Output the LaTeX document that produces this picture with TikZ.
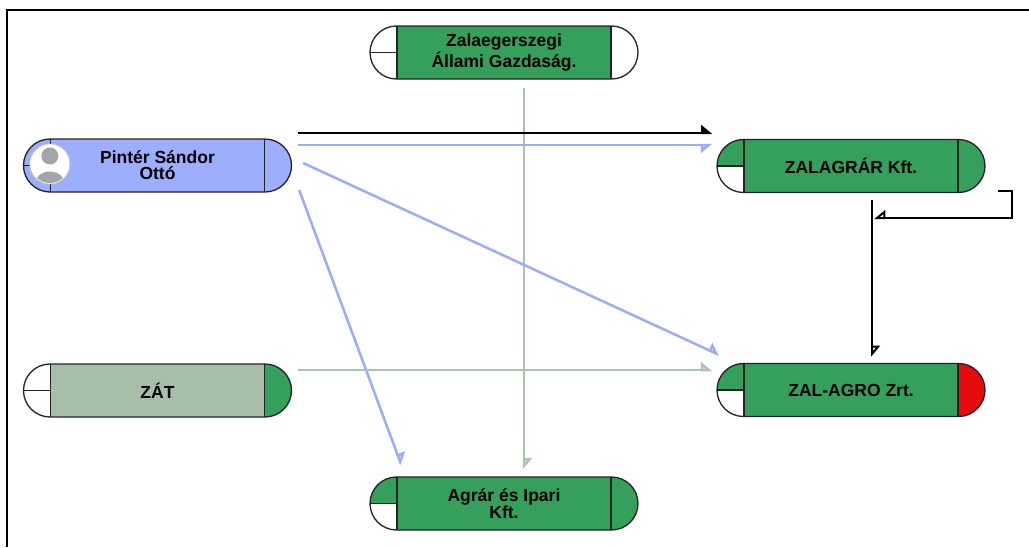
\documentclass[tikz,border=0pt]{standalone}
\usepackage{fontspec}
\setmainfont{Liberation Sans}
\usetikzlibrary{shapes.misc,calc,arrows.meta}
\definecolor{entgreen}{RGB}{52,160,92}
\definecolor{entblue}{RGB}{158,174,255}
\definecolor{entgray}{RGB}{167,190,170}
\definecolor{entred}{RGB}{228,12,12}
\definecolor{edge}{RGB}{35,35,35}
\definecolor{lineblue}{RGB}{155,172,252}
\definecolor{linegreen}{RGB}{170,196,172}
\definecolor{avgray}{RGB}{165,165,165}
\newcommand{\entfont}{\fontsize{17.5}{16}\selectfont\bfseries}
\tikzset{
  ent/.style args={#1/#2/#3/#4}{rounded rectangle, minimum width=268pt, minimum height=53pt,
    inner sep=0pt, draw=edge, line width=1.3pt, fill=#3, align=center, font=\entfont,
    path picture={
      \fill[#1] (path picture bounding box.north west) rectangle ([xshift=27pt]path picture bounding box.west);
      \fill[#2] (path picture bounding box.west) rectangle ([xshift=27pt]path picture bounding box.south west);
      \fill[#4] ([xshift=-27pt]path picture bounding box.north east) rectangle (path picture bounding box.south east);
      \draw[edge, line width=1.3pt] ([xshift=27pt]path picture bounding box.north west) -- ([xshift=27pt]path picture bounding box.south west);
      \draw[edge, line width=1.3pt] ([xshift=-27pt]path picture bounding box.north east) -- ([xshift=-27pt]path picture bounding box.south east);
      \draw[edge, line width=1.3pt] (path picture bounding box.west) -- ([xshift=27pt]path picture bounding box.west);
    }},
  blk/.style={draw=black, line width=2pt},
  blu/.style={draw=lineblue, line width=2.5pt},
  grn/.style={draw=linegreen, line width=2.5pt},
  tipL/.style={-{Triangle[harpoon,length=10pt,width=16pt]}},
  tipLo/.style={-{Triangle[harpoon,open,length=10pt,width=16pt]}},
  tipRo/.style={-{Triangle[harpoon,swap,open,length=10pt,width=16pt]}},
}
\begin{document}
\begin{tikzpicture}[x=1pt,y=-1pt]
\useasboundingbox (0,0) rectangle (1029,547);
\fill[white] (0,0) rectangle (1029,547);
\draw[line width=2pt] (7,547) -- (7,10) -- (1029,10);

\node[ent=white/white/entgreen/white] (zal) at (504,52.5) {Zalaegerszegi\\Állami Gazdaság.};
\node[ent=entblue/entblue/entblue/entblue] (pinter) at (157.5,165.5) {Pintér Sándor\\Ottó};
\node[ent=entgreen/white/entgreen/entgreen] (zalagrar) at (851,166) {ZALAGRÁR Kft.};
\node[ent=entgreen/white/entgreen/entred] (zalagro) at (851,390) {ZAL-AGRO Zrt.};
\node[ent=white/white/entgray/entgreen] (zat) at (157.5,390.5) {ZÁT};
\node[ent=entgreen/white/entgreen/entgreen] (agrar) at (504,503.5) {Agrár és Ipari\\Kft.};

% avatar
\coordinate (av) at ($(pinter.west)+(27,-1.5)$);
\fill[white, draw=avgray!60, line width=0.6pt] (av) circle[radius=20];
\begin{scope}
  \clip (av) circle[radius=19];
  \fill[avgray] ($(av)+(0,-8)$) circle[radius=8.5];
  \fill[avgray] ($(av)+(0,20)$) ellipse[x radius=15, y radius=12.5];
\end{scope}

% connectors
\draw[grn, tipLo] ($(zal.south)+(20,8)$) -- ($(agrar.north)+(20,-7)$);
\draw[blu, tipLo] ($(pinter.east)+(11,-2.5)$) -- ($(zalagro.west)+(3,-35)$);
\draw[blu, tipLo] ($(pinter.east)+(7,24.5)$) -- ($(agrar.west)+(32,-38.5)$);
\draw[grn, tipLo] ($(zat.east)+(6,-20.5)$) -- ($(zalagro.west)+(-4,-20)$);
\draw[blu, tipRo] ($(pinter.east)+(6,-20.5)$) -- ($(zalagrar.west)+(-4,-21)$);
\draw[blk, tipL] ($(pinter.east)+(6,-32.5)$) -- ($(zalagrar.west)+(-4,-33)$);
\draw[blk, tipLo] ($(zalagrar.south)+(21,7)$) -- ($(zalagro.north)+(21,-6)$);
\draw[blk, tipRo] ($(zalagrar.south)+(147,-2)$) -- ++(14,0) -- ++(0,27) -- ($(zalagrar.south)+(23,25)$);
\end{tikzpicture}
\end{document}
